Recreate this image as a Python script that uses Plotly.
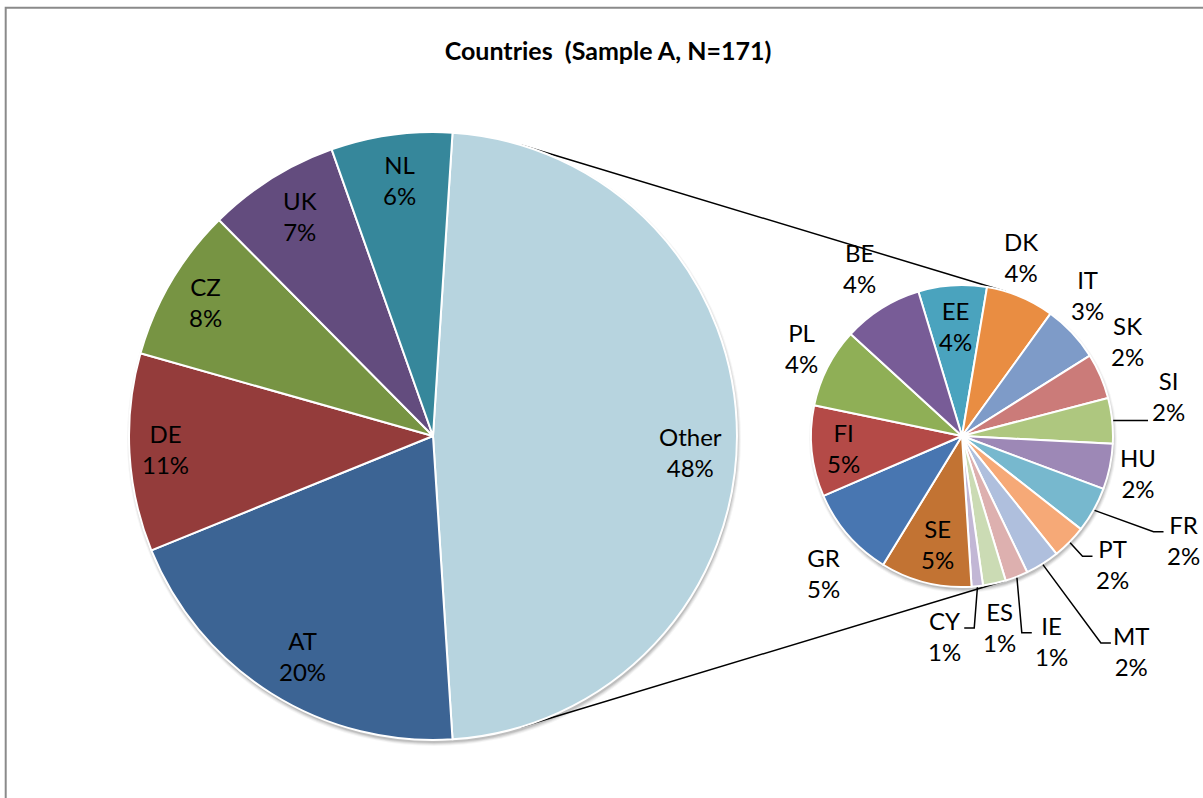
import math
import plotly.graph_objects as go

TOTAL_N = 171

# ---- data -------------------------------------------------------------
main_labels = ["Other", "AT", "DE", "CZ", "UK", "NL"]
main_values = [82, 34, 18, 14, 12, 11]

sub_labels = ["EE", "DK", "IT", "SK", "SI", "HU", "FR", "PT", "MT",
              "IE", "ES", "CY", "SE", "GR", "FI", "PL", "BE"]
sub_values = [6, 6, 5, 4, 4, 4, 4, 3, 3, 2, 2, 1, 8, 8, 8, 7, 7]

# ---- styles -----------------------------------------------------------
main_colors = ["#B7D4DF", "#3C6494", "#943C3B", "#779443", "#634C7E", "#36879B"]
sub_colors = ["#4AA3BE", "#E98D42", "#7E9BC8", "#CB7B79", "#AEC77F", "#9D88B6",
              "#77B8CE", "#F6A977", "#AFBFDD", "#DDB0AF", "#CBDBB4", "#C2B7D5",
              "#C27333", "#4876B1", "#B44A47", "#8FAF56", "#785C97"]

FONT = "Lato, Carlito, Calibri, sans-serif"
LABEL_SIZE = 24
W, H = 1203, 798
MAIN_C, MAIN_R = (433, 436), 304
SUB_C, SUB_R = (962, 436), 151
SUB_ROTATION = -16.8

# label placement: (radius factor, angle shift in degrees[, leader line?])
main_label_pos = {"Other": (0.85, 3.5), "AT": (0.84, -1.4), "DE": (0.88, 0.4),
                  "CZ": (0.87, 0), "UK": (0.845, 0.9), "NL": (0.85, 0.5)}
sub_label_pos = {
    "EE": (0.73, 0, False), "DK": (1.25, -4.5, False), "IT": (1.25, -5.3, False),
    "SK": (1.265, -6.3, False), "SI": (1.39, -5.2, True), "HU": (1.19, 0, False),
    "FR": (1.62, -4.2, True), "PT": (1.31, -4.2, True), "MT": (1.81, -6.0, True),
    "IE": (1.48, -2.5, True), "ES": (1.29, 1.4, False), "CY": (1.33, 10.9, True),
    "SE": (0.73, -1.3, False), "GR": (1.29, -3.9, False), "FI": (0.79, 0, False),
    "PL": (1.215, 1.6, False), "BE": (1.30, 0.8, False),
}


# ---- helpers ----------------------------------------------------------
def px(x, y):
    return x / W, 1 - y / H


def polar(c, r, ang):
    a = math.radians(ang)
    return c[0] + r * math.sin(a), c[1] - r * math.cos(a)


def mid_angles(values, rotation):
    tot = sum(values)
    out, cum = [], 0
    for v in values:
        out.append(rotation + (cum + v / 2) / tot * 360)
        cum += v
    return out


def pct(v):
    return f"{int(v / TOTAL_N * 100 + 0.5)}%"


def domain(c, r):
    return dict(x=[(c[0] - r) / W, (c[0] + r) / W],
                y=[1 - (c[1] + r) / H, 1 - (c[1] - r) / H])


main_rotation = 90 - 180 * main_values[0] / sum(main_values)

fig = go.Figure()
fig.add_trace(go.Pie(labels=main_labels, values=main_values, sort=False,
                     direction="clockwise", rotation=main_rotation,
                     marker=dict(colors=main_colors, line=dict(color="white", width=2)),
                     textinfo="none", hoverinfo="label+value",
                     domain=domain(MAIN_C, MAIN_R), showlegend=False))
fig.add_trace(go.Pie(labels=sub_labels, values=sub_values, sort=False,
                     direction="clockwise", rotation=SUB_ROTATION,
                     marker=dict(colors=sub_colors, line=dict(color="white", width=2)),
                     textinfo="none", hoverinfo="label+value",
                     domain=domain(SUB_C, SUB_R), showlegend=False))

shapes = []
annotations = []

# chart-area border
shapes.append(dict(type="rect", xref="paper", yref="paper",
                   x0=5.7 / W, x1=1.1, y0=-0.1, y1=1 - 7.7 / H,
                   line=dict(color="#8A8A8A", width=2), fillcolor="rgba(0,0,0,0)",
                   layer="below"))

# soft shadows under both pies
for c, r in ((MAIN_C, MAIN_R), (SUB_C, SUB_R)):
    for k, op in ((3, 0.04), (2, 0.06), (1, 0.08), (0, 0.10)):
        cx, cy = c[0] + 1, c[1] + 3
        x0, y1 = px(cx - r - k, cy - r - k)
        x1, y0 = px(cx + r + k, cy + r + k)
        shapes.append(dict(type="circle", xref="paper", yref="paper",
                           x0=x0, x1=x1, y0=y0, y1=y1, layer="below",
                           line=dict(width=0), fillcolor=f"rgba(0,0,0,{op})"))

# connector lines: outer common tangents of the two pies
Dx, Dy = SUB_C[0] - MAIN_C[0], SUB_C[1] - MAIN_C[1]
dist = math.hypot(Dx, Dy)
ux, uy = Dx / dist, Dy / dist
pxn, pyn = uy, -ux  # perpendicular pointing "up"
cc = (MAIN_R - SUB_R) / dist
ss = math.sqrt(1 - cc * cc)
for sgn in (1, -1):
    nx, ny = ux * cc + sgn * pxn * ss, uy * cc + sgn * pyn * ss
    T1 = (MAIN_C[0] + MAIN_R * nx, MAIN_C[1] + MAIN_R * ny)
    T2 = (SUB_C[0] + SUB_R * nx, SUB_C[1] + SUB_R * ny)
    x0, y0 = px(*T1)
    x1, y1 = px(*T2)
    shapes.append(dict(type="line", xref="paper", yref="paper",
                       x0=x0, y0=y0, x1=x1, y1=y1, layer="below",
                       line=dict(color="black", width=1.5)))

# labels of the first pie
for lab, v, m in zip(main_labels, main_values, mid_angles(main_values, main_rotation)):
    rf, da = main_label_pos[lab]
    x, y = polar(MAIN_C, MAIN_R * rf, m + da)
    xp, yp = px(x, y)
    annotations.append(dict(x=xp, y=yp, xref="paper", yref="paper",
                            text=f"{lab}<br>{pct(v)}", showarrow=False,
                            xanchor="center", yanchor="middle",
                            font=dict(family=FONT, size=LABEL_SIZE, color="black")))

# labels of the second pie (with leader lines where needed)
for lab, v, m in zip(sub_labels, sub_values, mid_angles(sub_values, SUB_ROTATION)):
    rf, da, leader = sub_label_pos[lab]
    x, y = polar(SUB_C, SUB_R * rf, m + da)
    xp, yp = px(x, y)
    annotations.append(dict(x=xp, y=yp, xref="paper", yref="paper",
                            text=f"{lab}<br>{pct(v)}", showarrow=False,
                            xanchor="center", yanchor="middle",
                            font=dict(family=FONT, size=LABEL_SIZE, color="black")))
    if leader:
        rx, ry = polar(SUB_C, SUB_R + 1, m)
        ey = max(ry, y - 8)
        if x > rx:
            ex = x - 16 - 4
            bx = ex - 10
        else:
            ex = x + 16 + 4
            bx = ex + 10
        p0, p1, p2 = px(rx, ry), px(bx, ey), px(ex, ey)
        shapes.append(dict(type="path", xref="paper", yref="paper", layer="above",
                           path=f"M {p0[0]},{p0[1]} L {p1[0]},{p1[1]} L {p2[0]},{p2[1]}",
                           line=dict(color="black", width=1.5)))

tx, ty = px(608, 51)
fig.update_layout(
    width=W, height=H,
    margin=dict(l=0, r=0, t=0, b=0),
    paper_bgcolor="white", plot_bgcolor="white",
    title=dict(text="<b>Countries\u00a0 (Sample A, N=171)</b>", x=tx, y=ty,
               xanchor="center", yanchor="middle", xref="paper", yref="container",
               font=dict(family=FONT, size=25, color="black")),
    shapes=shapes, annotations=annotations,
)

fig.write_html("out.html")
